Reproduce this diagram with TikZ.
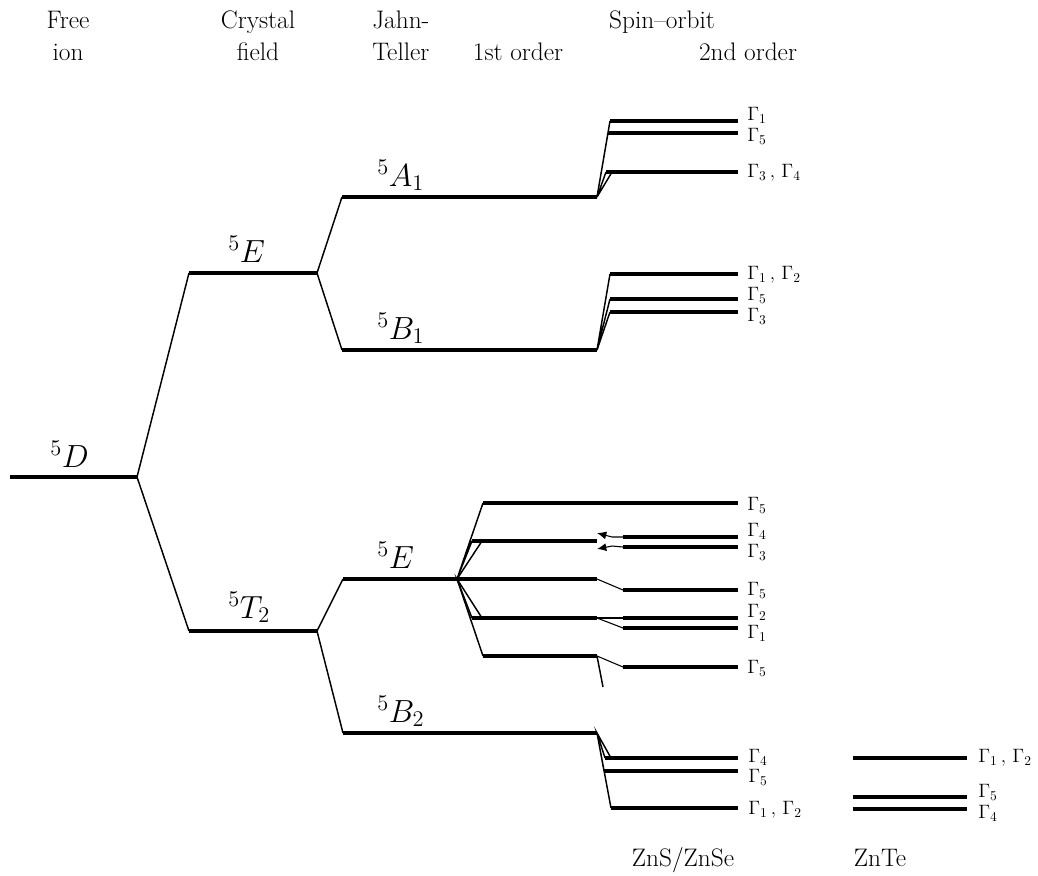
\RequirePackage{fix-cm}
\documentclass[tikz,border=0pt]{standalone}
\usepackage{amsmath}
\usepackage{tikz}
\usetikzlibrary{arrows.meta}
\tikzset{
  level/.style={
    line width=2.3pt,
    line cap=butt
  },
  link/.style={
    line width=1.1pt
  },
  thinLink/.style={
    line width=0.8pt
  },
  headLabel/.style={
    anchor=base,
    inner sep=0pt,
    font=\fontsize{19}{22}\selectfont
  },
  stateLabel/.style={
    anchor=base west,
    inner sep=0pt,
    font=\fontsize{24}{28}\selectfont
  },
  gammaLabel/.style={
    anchor=west,
    inner sep=0pt,
    font=\fontsize{14.5}{16}\selectfont
  }
}

\begin{document}
\begin{tikzpicture}[x=0.75pt,y=-0.75pt]
  \useasboundingbox (0,0) rectangle (1038,875);
  \node[headLabel] (free) at (68,28) {Free};
  \node[headLabel] (ion) at (68,60) {ion};
  \node[headLabel] (crystal) at (258,28) {Crystal};
  \node[headLabel] (field) at (258,60) {field};
  \node[headLabel,anchor=base west] (jahn) at (372,28) {Jahn-};
  \node[headLabel,anchor=base west] (teller) at (372,60) {Teller};
  \node[headLabel] (spinorbit) at (662,28) {Spin--orbit};
  \node[headLabel] (first) at (518,60) {1st order};
  \node[headLabel] (second) at (748,60) {2nd order};
  \node[headLabel] (zns) at (683,866) {ZnS/ZnSe};
  \node[headLabel] (znte) at (880,866) {ZnTe};
  \coordinate (Dl) at (10,477);
  \coordinate (Dr) at (137,477);
  \coordinate (CEl) at (189,273);
  \coordinate (CEr) at (317,273);
  \coordinate (CTl) at (189,631);
  \coordinate (CTr) at (317,631);
  \coordinate (Al) at (342,197);
  \coordinate (Ar) at (597,197);
  \coordinate (B1l) at (342,350);
  \coordinate (B1r) at (597,350);
  \coordinate (JEl) at (343,579);
  \coordinate (JEr) at (457,579);
  \coordinate (B2l) at (343,733);
  \coordinate (B2r) at (597,733);
  \coordinate (F1l) at (483,503);
  \coordinate (F1r) at (738,503);
  \coordinate (F2l) at (472,541);
  \coordinate (F2m) at (482,541);
  \coordinate (F2r) at (597,541);
  \coordinate (F3r) at (597,579);
  \coordinate (F4l) at (472,618);
  \coordinate (F4m) at (482,618);
  \coordinate (F4r) at (597,618);
  \coordinate (F5l) at (483,656);
  \coordinate (F5r) at (597,656);
  \coordinate (F5s) at (603,687);
  \coordinate (G4l) at (623,537);
  \coordinate (G4r) at (738,537);
  \coordinate (G4a) at (612,537);
  \coordinate (G4t) at (597,533);
  \coordinate (G3l) at (623,547);
  \coordinate (G3r) at (738,547);
  \coordinate (G3a) at (612,546);
  \coordinate (G3t) at (597,549);
  \coordinate (G5al) at (623,590);
  \coordinate (G5ar) at (738,590);
  \coordinate (G2l) at (623,618);
  \coordinate (G2r) at (738,618);
  \coordinate (G1l) at (623,628);
  \coordinate (G1r) at (738,628);
  \coordinate (G5bl) at (623,667);
  \coordinate (G5br) at (738,667);
  \coordinate (T1l) at (610,121);
  \coordinate (T1r) at (738,121);
  \coordinate (T5l) at (608,133);
  \coordinate (T5r) at (738,133);
  \coordinate (T34l) at (606,172);
  \coordinate (T34m) at (612,172);
  \coordinate (T34r) at (738,172);
  \coordinate (U12l) at (610,274);
  \coordinate (U12r) at (738,274);
  \coordinate (U5l) at (610,299);
  \coordinate (U5r) at (738,299);
  \coordinate (U3l) at (610,312);
  \coordinate (U3r) at (738,312);
  \coordinate (V4l) at (605,758);
  \coordinate (V4m) at (611,758);
  \coordinate (V4r) at (738,758);
  \coordinate (V5l) at (604,771);
  \coordinate (V5r) at (738,771);
  \coordinate (V12l) at (611,808);
  \coordinate (V12r) at (738,808);
  \coordinate (W12l) at (853,758);
  \coordinate (W12r) at (967,758);
  \coordinate (W5l) at (853,797);
  \coordinate (W5r) at (967,797);
  \coordinate (W4l) at (853,809);
  \coordinate (W4r) at (967,809);
  \node[stateLabel] (lD) at (50,467) {$^5D$};
  \node[stateLabel] (lCE) at (228,262) {$^5E$};
  \node[stateLabel] (lCT) at (228,618) {$^5T_2$};
  \node[stateLabel] (lA) at (377,186) {$^5A_1$};
  \node[stateLabel] (lB1) at (377,339) {$^5B_1$};
  \node[stateLabel] (lJE) at (377,568) {$^5E$};
  \node[stateLabel] (lB2) at (377,722) {$^5B_2$};
  \node[gammaLabel] (gT1) at (747,115) {$\Gamma_1$};
  \node[gammaLabel] (gT5) at (747,136) {$\Gamma_5$};
  \node[gammaLabel] (gT34) at (747,173) {$\Gamma_3\,,\,\Gamma_4$};
  \node[gammaLabel] (gU12) at (747,275) {$\Gamma_1\,,\,\Gamma_2$};
  \node[gammaLabel] (gU5) at (747,295) {$\Gamma_5$};
  \node[gammaLabel] (gU3) at (747,316) {$\Gamma_3$};
  \node[gammaLabel] (gF1) at (747,505) {$\Gamma_5$};
  \node[gammaLabel] (gG4) at (747,531) {$\Gamma_4$};
  \node[gammaLabel] (gG3) at (747,552) {$\Gamma_3$};
  \node[gammaLabel] (gG5a) at (747,590) {$\Gamma_5$};
  \node[gammaLabel] (gG2) at (747,612) {$\Gamma_2$};
  \node[gammaLabel] (gG1) at (747,633) {$\Gamma_1$};
  \node[gammaLabel] (gG5b) at (747,668) {$\Gamma_5$};
  \node[gammaLabel] (gV4) at (748,757) {$\Gamma_4$};
  \node[gammaLabel] (gV5) at (748,777) {$\Gamma_5$};
  \node[gammaLabel] (gV12) at (748,810) {$\Gamma_1\,,\,\Gamma_2$};
  \node[gammaLabel] (gW12) at (978,758) {$\Gamma_1\,,\,\Gamma_2$};
  \node[gammaLabel] (gW5) at (978,792) {$\Gamma_5$};
  \node[gammaLabel] (gW4) at (978,813) {$\Gamma_4$};
  \draw[level] (Dl) -- (Dr);
  \draw[level] (CEl) -- (CEr);
  \draw[level] (CTl) -- (CTr);
  \draw[level] (Al) -- (Ar);
  \draw[level] (B1l) -- (B1r);
  \draw[level] (JEl) -- (JEr) -- (F3r);
  \draw[level] (B2l) -- (B2r);
  \draw[level] (F1l) -- (F1r);
  \draw[level] (F2l) -- (F2r);
  \draw[level] (F4l) -- (F4r);
  \draw[level] (F5l) -- (F5r);
  \draw[level] (G4l) -- (G4r);
  \draw[level] (G3l) -- (G3r);
  \draw[level] (G5al) -- (G5ar);
  \draw[level] (G2l) -- (G2r);
  \draw[level] (G1l) -- (G1r);
  \draw[level] (G5bl) -- (G5br);
  \draw[level] (T1l) -- (T1r);
  \draw[level] (T5l) -- (T5r);
  \draw[level] (T34l) -- (T34r);
  \draw[level] (U12l) -- (U12r);
  \draw[level] (U5l) -- (U5r);
  \draw[level] (U3l) -- (U3r);
  \draw[level] (V4l) -- (V4r);
  \draw[level] (V5l) -- (V5r);
  \draw[level] (V12l) -- (V12r);
  \draw[level] (W12l) -- (W12r);
  \draw[level] (W5l) -- (W5r);
  \draw[level] (W4l) -- (W4r);
  \draw[link] (CEl) -- (Dr) -- (CTl);
  \draw[link] (Al) -- (CEr) -- (B1l);
  \draw[link] (JEl) -- (CTr) -- (B2l);
  \draw[link] (F1l) -- (JEr) -- (F2l);
  \draw[link] (F2m) -- (JEr) -- (F4l);
  \draw[link] (F4m) -- (JEr) -- (F5l);
  \draw[link] (T1l) -- (Ar) -- (T5l);
  \draw[link] (T34l) -- (Ar) -- (T34m);
  \draw[link] (U12l) -- (B1r) -- (U5l);
  \draw[link] (U3l) -- (B1r);
  \draw[link] (V4l) -- (B2r) -- (V4m);
  \draw[link] (V5l) -- (B2r) -- (V12l);
  \draw[thinLink,-{Latex[length=7pt,width=6pt]}] (G4l) -- (G4a) -- (G4t);
  \draw[thinLink,-{Latex[length=7pt,width=6pt]}] (G3l) -- (G3a) -- (G3t);
  \draw[thinLink] (F3r) -- (G5al);
  \draw[thinLink] (F4r) -- (G2l);
  \draw[thinLink] (F4r) -- (G1l);
  \draw[thinLink] (F5r) -- (G5bl);
  \draw[link] (F5r) -- (F5s);
\end{tikzpicture}
\end{document}
